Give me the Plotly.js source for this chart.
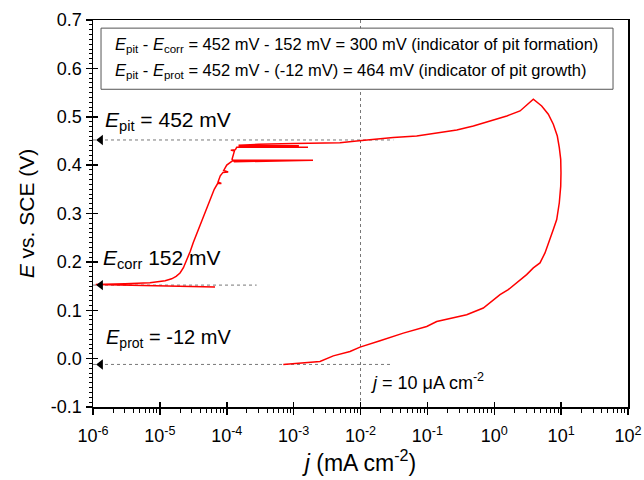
<!DOCTYPE html>
<html>
<head>
<meta charset="utf-8">
<script src="https://cdn.plot.ly/plotly-3.0.1.min.js"></script>
<style>html,body{margin:0;padding:0;background:#fff;}</style>
</head>
<body>
<div id="chart" style="width:644px;height:480px;"></div>
<script>
// Polarization curve: current density j (mA cm^-2) vs potential E (V vs SCE)
const jScan = [
  6.67e-5, 3.0e-5, 1.0e-5, 3.0e-6, 1.1e-6,
  1.5e-6, 3.0e-6, 7.1e-6, 1.2e-5, 1.5e-5, 1.75e-5, 2.0e-5, 2.25e-5, 2.52e-5, 2.85e-5, 3.16e-5, 3.8e-5, 4.46e-5, 5.62e-5, 6.5e-5,
  7.3e-5, 8.3e-5, 7.4e-5, 8.0e-5, 8.79e-5, 1.05e-4, 9.0e-5, 1.0e-4, 1.12e-4,
  1.25e-4, 1.95e-3, 1.3e-4, 1.2e-4, 1.25e-4, 1.3e-4, 1.15e-4, 1.35e-4,
  1.41e-4, 1.64e-3, 1.5e-4, 1.2e-3, 1.5e-4, 3e-4, 1e-3, 3e-3, 4.93e-3,
  8.77e-3, 1.55e-2, 3.09e-2, 6.92e-2, 0.155, 0.275, 0.487, 0.863, 1.54, 2.43, 3.84,
  5.12, 6.43, 7.64, 8.77, 9.39, 9.86, 9.95, 9.86, 9.39, 8.59, 7.64, 6.82, 5.74, 4.83,
  3.84, 3.05, 2.29, 1.62, 1.22,
  0.686, 0.387, 0.218, 0.138, 0.0977, 0.0437, 0.0196, 0.00984, 0.00697, 0.00392,
  0.00248, 0.0014, 7.0e-4
];
const eScan = [
  0.148, 0.149, 0.151, 0.152, 0.153,
  0.154, 0.155, 0.157, 0.161, 0.165, 0.170, 0.177, 0.188, 0.203, 0.222, 0.240, 0.268, 0.294, 0.329, 0.350,
  0.362, 0.362, 0.365, 0.378, 0.385, 0.386, 0.389, 0.400, 0.405,
  0.410, 0.410, 0.407, 0.412, 0.420, 0.429, 0.431, 0.432,
  0.437, 0.437, 0.439, 0.440, 0.441, 0.443, 0.4445, 0.446, 0.4465,
  0.4498, 0.4534, 0.4569, 0.4602, 0.4673, 0.4727, 0.4809, 0.4913, 0.5017, 0.512, 0.5363,
  0.5224, 0.5052, 0.4845, 0.4602, 0.4362, 0.4119, 0.3844, 0.3566, 0.3222, 0.2876, 0.2668, 0.2461, 0.2185, 0.1978,
  0.1875, 0.1736, 0.1597, 0.1425, 0.1321,
  0.1046, 0.0907, 0.0838, 0.0768, 0.0664, 0.0527, 0.0368, 0.0237, 0.0146, 0.0057,
  -0.006, -0.009, -0.012
];

// Characteristic potentials (V) and reference-line extents
const refNames = ["Epit", "Ecorr", "Eprot"];
const refE = [0.452, 0.152, -0.012];
const refJStart = [1e-6, 1e-6, 1e-6];
const refJEnd = [3.1e-2, 2.8e-4, 2.8e-2];
const jRef = 1e-2;           // j = 10 uA cm^-2
const yRange = [-0.1, 0.7];
const xRange = [1e-6, 1e2];

// Tick labels
const xTickVals = [1e-6, 1e-5, 1e-4, 1e-3, 1e-2, 1e-1, 1e0, 1e1, 1e2];
const xTickText = ["10<sup>-6</sup>","10<sup>-5</sup>","10<sup>-4</sup>","10<sup>-3</sup>","10<sup>-2</sup>","10<sup>-1</sup>","10<sup>0</sup>","10<sup>1</sup>","10<sup>2</sup>"];
const yTickVals = [-0.1, 0.0, 0.1, 0.2, 0.3, 0.4, 0.5, 0.6, 0.7];
const yTickText = ["-0.1", "0.0", "0.1", "0.2", "0.3", "0.4", "0.5", "0.6", "0.7"];

const minorX = [];
for (let d = -6; d < 2; d++) for (let m = 2; m <= 9; m++) minorX.push(m * Math.pow(10, d));

const FONT = "Liberation Sans, Arial, sans-serif";
const dotStyle = {color: "#777", width: 1, dash: "dot"};

const traces = [];
for (let i = 0; i < refE.length; i++) {
  traces.push({x: [refJStart[i], refJEnd[i]], y: [refE[i], refE[i]], mode: "lines",
    line: dotStyle, hoverinfo: "skip", showlegend: false});
}
traces.push({x: [jRef, jRef], y: yRange, mode: "lines", line: dotStyle, hoverinfo: "skip", showlegend: false});
traces.push({x: jScan, y: eScan, mode: "lines", line: {color: "#ff0000", width: 1.5, shape: "linear"}, showlegend: false});
traces.push({x: refE.map(() => 1.3e-6), y: refE, mode: "markers", cliponaxis: false,
  marker: {symbol: "triangle-left", size: 9, color: "#000"}, showlegend: false});
traces.push({x: [1e-3], y: [0.3], xaxis: "x2", yaxis: "y2", mode: "markers", marker: {opacity: 0}, showlegend: false, hoverinfo: "skip"});

const ann = [
  {text: "<i>E</i><sub>pit</sub> = 452 mV", x: -5.85, y: 0.492, size: 21},
  {text: "<i>E</i><sub>corr</sub> 152 mV", x: -5.88, y: 0.206, size: 21},
  {text: "<i>E</i><sub>prot</sub> = -12 mV", x: -5.836, y: 0.042, size: 20},
  {text: "<i>j</i> = 10 μA cm<sup>-2</sup>", x: -1.888, y: -0.048, size: 18},
  {text: "<i>E</i><sub>pit</sub> - <i>E</i><sub>corr</sub> = 452 mV - 152 mV = 300 mV (indicator of pit formation)", x: -5.70, y: 0.648, size: 16.5},
  {text: "<i>E</i><sub>pit</sub> - <i>E</i><sub>prot</sub> = 452 mV - (-12 mV) = 464 mV (indicator of pit growth)", x: -5.70, y: 0.594, size: 16.5}
].map(a => ({text: a.text, x: a.x, y: a.y, xref: "x", yref: "y", xanchor: "left", yanchor: "middle",
  showarrow: false, font: {family: FONT, size: a.size, color: "#000"}}));

const layout = {
  width: 644, height: 480,
  margin: {l: 93, r: 16, t: 20, b: 73},
  paper_bgcolor: "#fff", plot_bgcolor: "#fff",
  font: {family: FONT, color: "#000"},
  xaxis: {
    type: "log", range: [Math.log10(xRange[0]), Math.log10(xRange[1])],
    tickmode: "array", tickvals: xTickVals, ticktext: xTickText,
    ticks: "outside", ticklen: 6, tickwidth: 1.5, tickcolor: "#000",
    minor: {tickmode: "array", tickvals: minorX, ticks: "outside", ticklen: 4, tickwidth: 1, tickcolor: "#000"},
    showline: true, linecolor: "#000", linewidth: 1.5, mirror: true,
    showgrid: false, zeroline: false,
    ticklabelstandoff: 6,
    tickfont: {size: 18, family: FONT},
    title: {text: "<i>j</i> (mA cm<sup>-2</sup>)", font: {size: 23, family: FONT}, standoff: 4}
  },
  yaxis: {
    range: yRange, tickmode: "array", tickvals: yTickVals, ticktext: yTickText,
    ticks: "outside", ticklen: 6, tickwidth: 1.5, tickcolor: "#000",
    minor: {dtick: 0.01, ticks: "outside", ticklen: 3, tickwidth: 1, tickcolor: "#000"},
    showline: true, linecolor: "#000", linewidth: 1.5, mirror: true,
    showgrid: false, zeroline: false,
    tickfont: {size: 18, family: FONT},
    title: {text: "<i>E</i> vs. SCE (V)", font: {size: 21, family: FONT}, standoff: 10}
  },
  xaxis2: {
    type: "log", overlaying: "x", anchor: "y", side: "bottom", range: [Math.log10(xRange[0]), Math.log10(xRange[1])],
    tickmode: "array", tickvals: xTickVals, ticks: "inside", ticklen: 5, tickwidth: 1.5, tickcolor: "#000",
    showticklabels: false, showgrid: false, zeroline: false, showline: false
  },
  yaxis2: {
    overlaying: "y", anchor: "x", side: "left", range: yRange, tickmode: "array", tickvals: yTickVals,
    ticks: "inside", ticklen: 5, tickwidth: 1.5, tickcolor: "#000",
    showticklabels: false, showgrid: false, zeroline: false, showline: false
  },
  shapes: [{type: "rect", xref: "paper", yref: "paper", x0: 0.015, x1: 0.972, y0: 0.821, y1: 0.979,
    line: {color: "#555", width: 1}, fillcolor: "#fff", layer: "above"}],
  annotations: ann,
  showlegend: false
};

Plotly.newPlot("chart", traces, layout, {displayModeBar: false, staticPlot: true});
</script>
</body>
</html>
